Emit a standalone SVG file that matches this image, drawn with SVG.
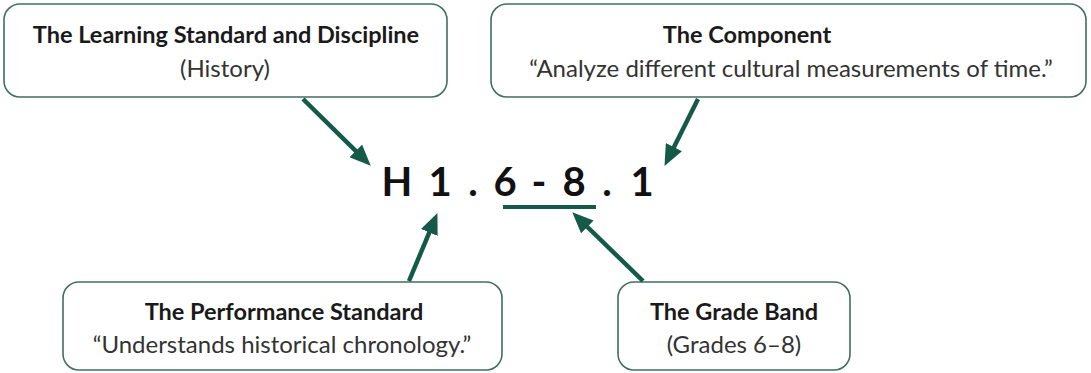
<svg xmlns="http://www.w3.org/2000/svg" width="1091" height="373" viewBox="0 0 1091 373">
<style>
.box{fill:#fff;stroke:#3f6f61;stroke-width:1.6}
.t{font-family:Lato,"Open Sans",sans-serif;font-weight:bold;font-size:23.5px;fill:#1a1a1a;text-anchor:middle}
.s{font-family:Lato,"Open Sans",sans-serif;font-size:24px;fill:#333;text-anchor:middle}
.code{font-family:Lato,"Open Sans",sans-serif;font-weight:bold;font-size:40px;fill:#111;text-anchor:middle}
.conn{stroke:#155a48;stroke-width:4.5;fill:none}
</style>
<defs>
<marker id="ah" markerUnits="userSpaceOnUse" markerWidth="22" markerHeight="18" refX="2" refY="9" orient="auto" viewBox="0 0 22 18">
<path d="M0,0 L21,9 L0,18 z" fill="#155a48"/>
</marker>
</defs>
<rect width="1091" height="373" fill="#fff"/>
<g id="node-learning">
<rect class="box" x="4" y="4" width="443" height="93" rx="16"/>
<text class="t" x="226" y="43">The Learning Standard and Discipline</text>
<text class="s" x="225" y="77">(History)</text>
</g>
<g id="node-component">
<rect class="box" x="491" y="4" width="595" height="93" rx="16"/>
<text class="t" x="747" y="43">The Component</text>
<text class="s" x="791" y="77">“Analyze different cultural measurements of time.”</text>
</g>
<g id="node-performance">
<rect class="box" x="63" y="282" width="439" height="88" rx="16"/>
<text class="t" x="284" y="320">The Performance Standard</text>
<text class="s" x="282" y="353">“Understands historical chronology.”</text>
</g>
<g id="node-grade">
<rect class="box" x="618" y="282" width="232" height="88" rx="16"/>
<text class="t" x="734" y="320">The Grade Band</text>
<text class="s" x="734" y="353">(Grades 6–8)</text>
</g>
<g id="node-code">
<text class="code" y="196" x="397 418 440 456 473 489 505 522 539 556 574 590 607 625 642">H 1 . 6 - 8 . 1</text>
<line x1="503" y1="207" x2="596" y2="207" stroke="#155a48" stroke-width="4"/>
</g>
<g id="connectors">
<line class="conn" x1="303" y1="99" x2="357.2" y2="152.4" marker-end="url(#ah)"/>
<line class="conn" x1="698" y1="99" x2="673" y2="148.9" marker-end="url(#ah)"/>
<line class="conn" x1="409" y1="281" x2="430.1" y2="230.6" marker-end="url(#ah)"/>
<line class="conn" x1="643" y1="281" x2="585.9" y2="225.5" marker-end="url(#ah)"/>
</g>
</svg>
